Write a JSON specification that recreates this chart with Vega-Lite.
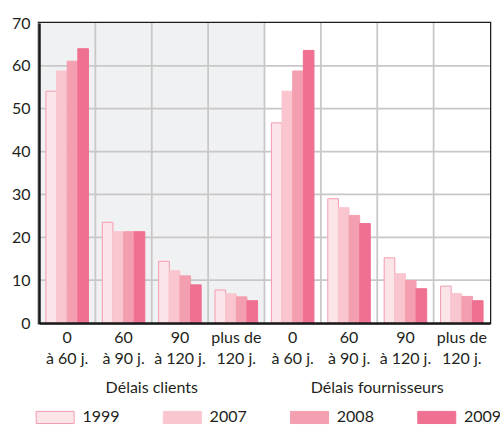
{
  "$schema": "https://vega.github.io/schema/vega-lite/v6.json",
  "width": 451,
  "height": 300,
  "autosize": {"type": "none"},
  "padding": {"left": 39, "top": 23, "right": 10, "bottom": 103},
  "background": "#ffffff",
  "config": {
    "font": "Lato",
    "view": {"stroke": "#1a1a1a", "strokeWidth": 2.5},
    "axis": {"labelColor": "#231f20", "labelFont": "Lato"},
    "legend": {"labelColor": "#231f20", "labelFont": "Lato"}
  },
  "datasets": {
    "barres": [
      {"cat": "Délais clients|0|à 60 j.", "annee": "1999", "valeur": 54.1},
      {"cat": "Délais clients|0|à 60 j.", "annee": "2007", "valeur": 58.8},
      {"cat": "Délais clients|0|à 60 j.", "annee": "2008", "valeur": 61.1},
      {"cat": "Délais clients|0|à 60 j.", "annee": "2009", "valeur": 64.0},
      {"cat": "Délais clients|60|à 90 j.", "annee": "1999", "valeur": 23.5},
      {"cat": "Délais clients|60|à 90 j.", "annee": "2007", "valeur": 21.3},
      {"cat": "Délais clients|60|à 90 j.", "annee": "2008", "valeur": 21.3},
      {"cat": "Délais clients|60|à 90 j.", "annee": "2009", "valeur": 21.3},
      {"cat": "Délais clients|90|à 120 j.", "annee": "1999", "valeur": 14.4},
      {"cat": "Délais clients|90|à 120 j.", "annee": "2007", "valeur": 12.2},
      {"cat": "Délais clients|90|à 120 j.", "annee": "2008", "valeur": 11.0},
      {"cat": "Délais clients|90|à 120 j.", "annee": "2009", "valeur": 8.9},
      {"cat": "Délais clients|plus de|120 j.", "annee": "1999", "valeur": 7.7},
      {"cat": "Délais clients|plus de|120 j.", "annee": "2007", "valeur": 6.8},
      {"cat": "Délais clients|plus de|120 j.", "annee": "2008", "valeur": 6.1},
      {"cat": "Délais clients|plus de|120 j.", "annee": "2009", "valeur": 5.2},
      {"cat": "Délais fournisseurs|0|à 60 j.", "annee": "1999", "valeur": 46.7},
      {"cat": "Délais fournisseurs|0|à 60 j.", "annee": "2007", "valeur": 54.1},
      {"cat": "Délais fournisseurs|0|à 60 j.", "annee": "2008", "valeur": 58.8},
      {"cat": "Délais fournisseurs|0|à 60 j.", "annee": "2009", "valeur": 63.6},
      {"cat": "Délais fournisseurs|60|à 90 j.", "annee": "1999", "valeur": 29.0},
      {"cat": "Délais fournisseurs|60|à 90 j.", "annee": "2007", "valeur": 26.9},
      {"cat": "Délais fournisseurs|60|à 90 j.", "annee": "2008", "valeur": 25.1},
      {"cat": "Délais fournisseurs|60|à 90 j.", "annee": "2009", "valeur": 23.2},
      {"cat": "Délais fournisseurs|90|à 120 j.", "annee": "1999", "valeur": 15.2},
      {"cat": "Délais fournisseurs|90|à 120 j.", "annee": "2007", "valeur": 11.5},
      {"cat": "Délais fournisseurs|90|à 120 j.", "annee": "2008", "valeur": 9.9},
      {"cat": "Délais fournisseurs|90|à 120 j.", "annee": "2009", "valeur": 8.0},
      {"cat": "Délais fournisseurs|plus de|120 j.", "annee": "1999", "valeur": 8.6},
      {"cat": "Délais fournisseurs|plus de|120 j.", "annee": "2007", "valeur": 6.9},
      {"cat": "Délais fournisseurs|plus de|120 j.", "annee": "2008", "valeur": 6.2},
      {"cat": "Délais fournisseurs|plus de|120 j.", "annee": "2009", "valeur": 5.2}
    ],
    "categories": [
      {"cat": "Délais clients|0|à 60 j.", "groupe": "clients"},
      {"cat": "Délais clients|60|à 90 j.", "groupe": "clients"},
      {"cat": "Délais clients|90|à 120 j.", "groupe": "clients"},
      {"cat": "Délais clients|plus de|120 j.", "groupe": "clients"},
      {"cat": "Délais fournisseurs|0|à 60 j.", "groupe": "fournisseurs"},
      {"cat": "Délais fournisseurs|60|à 90 j.", "groupe": "fournisseurs"},
      {"cat": "Délais fournisseurs|90|à 120 j.", "groupe": "fournisseurs"},
      {"cat": "Délais fournisseurs|plus de|120 j.", "groupe": "fournisseurs"}
    ],
    "grille": [
      {"v": 10}, {"v": 20}, {"v": 30}, {"v": 40}, {"v": 50}, {"v": 60}
    ]
  },
  "resolve": {"axis": {"x": "independent", "y": "independent"}},
  "layer": [
    {
      "data": {"name": "categories"},
      "mark": {"type": "rect"},
      "encoding": {
        "x": {
          "field": "cat", "type": "nominal",
          "axis": {
            "orient": "bottom",
            "values": ["Délais clients|60|à 90 j.", "Délais fournisseurs|60|à 90 j."],
            "labelOffset": 28.2,
            "labelExpr": "split(datum.label, '|')[0]",
            "labelPadding": 56,
            "labelFontSize": 16,
            "labelAngle": 0,
            "labelOverlap": false,
            "domain": false, "ticks": false, "grid": false, "title": null
          }
        },
        "fill": {
          "condition": {"test": "datum.groupe === 'clients'", "value": "#f0f1f3"},
          "value": "#ffffff"
        }
      }
    },
    {
      "data": {"name": "grille"},
      "mark": {"type": "rule", "color": "#c8c8c8", "strokeWidth": 1.8},
      "encoding": {
        "y": {"field": "v", "type": "quantitative", "axis": null}
      }
    },
    {
      "data": {"name": "categories"},
      "mark": {"type": "rule", "color": "#c8c8c8", "strokeWidth": 1.8},
      "encoding": {
        "x": {"field": "cat", "type": "nominal", "bandPosition": 0, "axis": null}
      }
    },
    {
      "data": {"name": "barres"},
      "mark": {"type": "bar", "strokeWidth": 1},
      "encoding": {
        "x": {
          "field": "cat", "type": "nominal",
          "scale": {
            "domain": [
              "Délais clients|0|à 60 j.", "Délais clients|60|à 90 j.", "Délais clients|90|à 120 j.", "Délais clients|plus de|120 j.",
              "Délais fournisseurs|0|à 60 j.", "Délais fournisseurs|60|à 90 j.", "Délais fournisseurs|90|à 120 j.", "Délais fournisseurs|plus de|120 j."
            ],
            "paddingInner": 0, "paddingOuter": 0
          },
          "axis": {
            "orient": "bottom",
            "labelExpr": "slice(split(datum.label, '|'), 1)",
            "labelFontSize": 16,
            "labelLineHeight": 21,
            "labelPadding": 6,
            "labelAngle": 0,
            "labelOverlap": false,
            "ticks": false, "grid": false, "title": null,
            "domain": true, "domainColor": "#1a1a1a", "domainWidth": 2.5,
            "zindex": 1
          }
        },
        "xOffset": {
          "field": "annee", "type": "nominal",
          "scale": {"paddingInner": 0, "paddingOuter": 0.65}
        },
        "y": {
          "field": "valeur", "type": "quantitative",
          "scale": {"domain": [0, 70], "nice": false},
          "axis": {
            "orient": "left",
            "values": [0, 10, 20, 30, 40, 50, 60, 70],
            "labelFontSize": 16,
            "labelPadding": 9,
            "ticks": false, "grid": false, "title": null,
            "domain": true, "domainColor": "#1a1a1a", "domainWidth": 2.5,
            "zindex": 1
          }
        },
        "fill": {
          "field": "annee", "type": "nominal",
          "scale": {"domain": ["1999", "2007", "2008", "2009"], "range": ["#fce5e9", "#f9c6cf", "#f49fb0", "#ef7091"]},
          "legend": {
            "orient": "none",
            "legendX": -6.1,
            "legendY": 386,
            "direction": "horizontal",
            "columns": 4,
            "title": null,
            "padding": 0,
            "symbolType": "M-1,-1.28H7V1.28H-1Z",
            "symbolSize": 90.25,
            "symbolStrokeWidth": 1,
            "labelFontSize": 16,
            "labelOffset": 33.5,
            "columnPadding": 40.2
          }
        },
        "stroke": {
          "field": "annee", "type": "nominal",
          "scale": {"domain": ["1999", "2007", "2008", "2009"], "range": ["#f39cb1", "#f9c6cf", "#f49fb0", "#ef7091"]}
        }
      }
    }
  ]
}
